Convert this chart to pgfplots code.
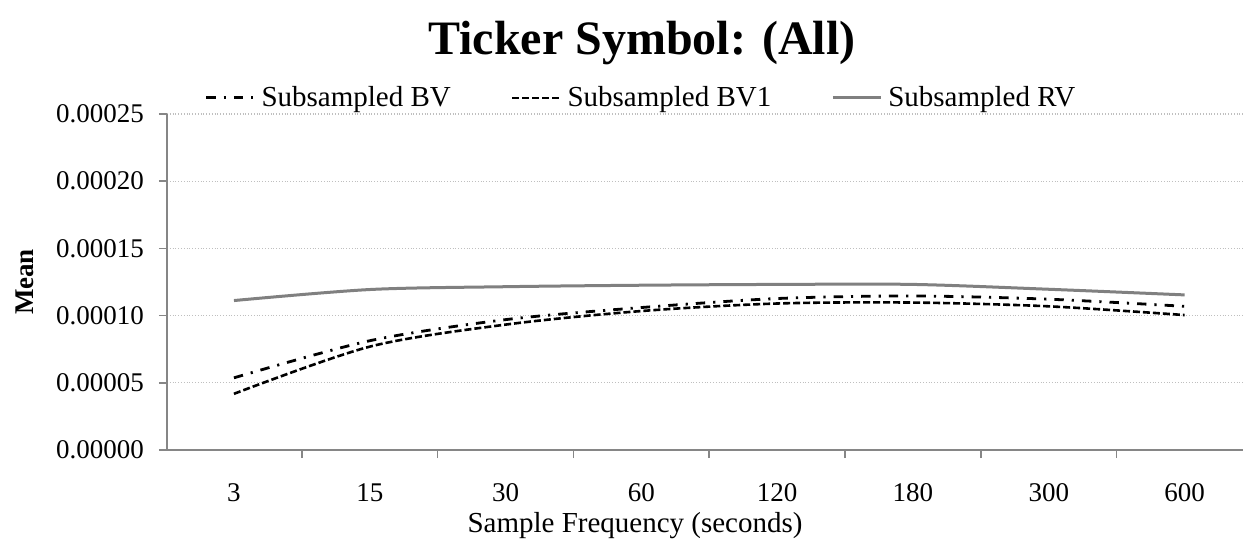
\documentclass[border=0pt]{standalone}
\usepackage{fontspec}
\setmainfont{Liberation Serif}
\usepackage{pgfplots}
\pgfplotsset{compat=1.18}
\definecolor{axgray}{HTML}{868686}
\definecolor{gridgray}{HTML}{BFBFBF}
\definecolor{rvgray}{HTML}{808080}

% x: 0..7 = 3,15,30,60,120,180,300,600 seconds
\pgfplotstableread{
x   bv         bvone      rv
0   0.0000537  0.0000418  0.0001112
1   0.0000813  0.0000769  0.0001194
2   0.0000970  0.0000933  0.0001215
3   0.0001060  0.0001034  0.0001226
4   0.0001127  0.0001090  0.0001232
5   0.0001146  0.0001097  0.0001232
6   0.0001122  0.0001069  0.0001196
7   0.0001069  0.0001004  0.0001154
}\meantable

\begin{document}
\begin{tikzpicture}
\useasboundingbox (-83.5pt,-46pt) rectangle (538pt,225pt);
\begin{axis}[
    scale only axis,
    width=538pt, height=168pt,
    xmin=-0.493, xmax=7.43,
    ymin=0, ymax=0.00025,
    xtick={0,1,2,3,4,5,6,7},
    xticklabels={3,15,30,60,120,180,300,600},
    minor xtick={-0.5,0.5,1.5,2.5,3.5,4.5,5.5,6.5},
    ytick={0,0.00005,0.0001,0.00015,0.0002,0.00025},
    scaled y ticks=false,
    yticklabel style={/pgf/number format/fixed, /pgf/number format/fixed zerofill,
        /pgf/number format/precision=5, /pgf/number format/assume math mode=true,
        anchor=east, xshift=-4pt},
    axis x line*=bottom, axis y line*=left,
    axis line style={-, axgray, line width=1pt},
    tick align=outside,
    major tick length=4pt, minor tick length=4pt,
    tick style={axgray, line width=0.8pt},
    every major x tick/.append style={draw=none},
    ymajorgrids,
    major grid style={gridgray, densely dotted, line width=0.6pt},
    tick label style={font=\fontsize{13.5}{16}\selectfont},
    xticklabel style={anchor=base, yshift=-21.5pt},
    xlabel={Sample Frequency (seconds)},
    xlabel style={at={(axis description cs:0.435,-0.225)}, anchor=center, font=\fontsize{14.5}{17}\selectfont},
    ylabel={Mean},
    ylabel style={at={(axis description cs:-0.132,0.5)}, anchor=center, font=\fontsize{13.5}{16}\selectfont\bfseries},
    title={Ticker Symbol: (All)},
    title style={at={(axis description cs:0.4415,1.175)}, anchor=center, font=\fontsize{24}{28}\selectfont\bfseries},
    legend columns=3,
    legend style={at={(axis description cs:0.4415,1.048)}, anchor=center, draw=none, fill=none,
        font=\fontsize{14.5}{17}\selectfont,
        /tikz/every odd column/.append style={column sep=1pt},
        /tikz/every even column/.append style={column sep=28pt}},
    legend image code/.code={\draw[#1] (0pt,0pt) -- (24pt,0pt);},
]
\addplot[black, line width=1.4pt, smooth, dash pattern=on 4.7pt off 4pt on 1.1pt off 4pt] table[x=x, y=bv] {\meantable};
\addplot[black, line width=1.3pt, smooth, dash pattern=on 3.5pt off 1.5pt] table[x=x, y=bvone] {\meantable};
\addplot[rvgray, line width=1.5pt, smooth] table[x=x, y=rv] {\meantable};
\legend{Subsampled BV, Subsampled BV1, Subsampled RV}
\end{axis}
\end{tikzpicture}
\end{document}
